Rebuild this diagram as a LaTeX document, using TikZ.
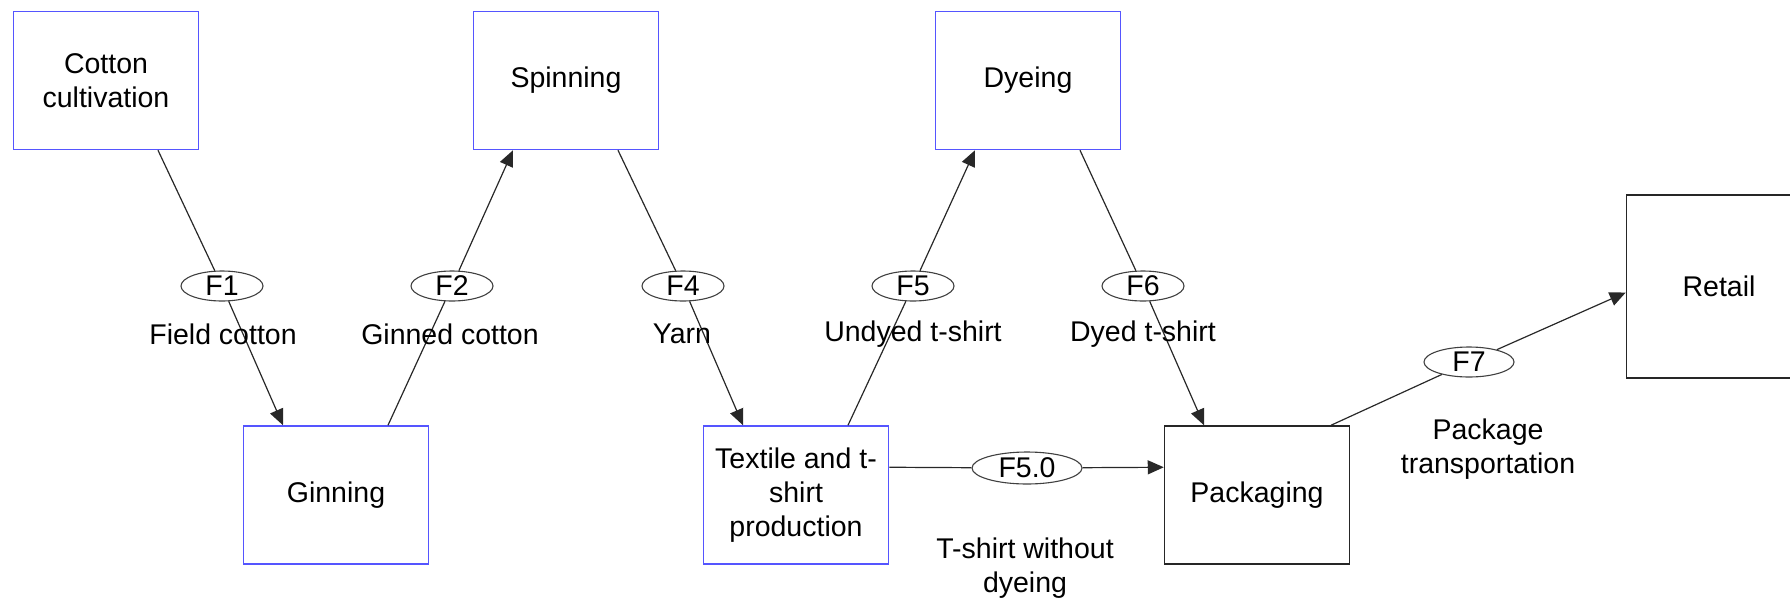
\documentclass[tikz,border=0pt]{standalone}
\usepackage{fontspec}
\setmainfont{Liberation Sans}
\usetikzlibrary{shapes.geometric,arrows.meta,calc}
\definecolor{boxblue}{RGB}{85,85,255}
\definecolor{linegray}{RGB}{40,40,40}
\tikzset{
  procbox/.style={draw=boxblue,line width=1.5pt,minimum width=185pt,minimum height=138pt,inner sep=0pt,align=center,fill=white},
  blackbox/.style={procbox,draw=black!85},
  flowell/.style={ellipse,draw=black!75,line width=1.1pt,minimum width=82pt,minimum height=30pt,inner sep=0pt,fill=white},
  conn/.style={draw=linegray,line width=1.2pt},
  arr/.style={conn,-{Triangle[length=16pt,width=14pt]}},
  lbl/.style={align=center,inner sep=0pt}
}
\begin{document}
\begin{tikzpicture}[x=1pt,y=-1pt,font=\fontsize{28.5}{34}\selectfont]
\useasboundingbox (0,0) rectangle (1790,600);
\clip (0,0) rectangle (1790,600);
% boxes
\node[procbox] (cotton) at (106,80.5) {Cotton\\cultivation};
\node[procbox] (spinning) at (566,80.5) {Spinning};
\node[procbox] (dyeing) at (1028,80.5) {Dyeing};
\node[procbox] (ginning) at (336,495) {Ginning};
\node[procbox] (textile) at (796,495) {Textile and t-\\shirt\\production};
\node[blackbox] (packaging) at (1257,495) {Packaging};
\node[blackbox,minimum height=183pt] (retail) at (1719,286.5) {Retail};
% attachment points
\coordinate (c1) at ($(cotton.south)+(52,0)$);
\coordinate (g1) at ($(ginning.north)+(-53,0)$);
\coordinate (g2) at ($(ginning.north)+(52,0)$);
\coordinate (s1) at ($(spinning.south)+(-53,0)$);
\coordinate (s2) at ($(spinning.south)+(52,0)$);
\coordinate (t1) at ($(textile.north)+(-53,0)$);
\coordinate (t2) at ($(textile.north)+(52,0)$);
\coordinate (d1) at ($(dyeing.south)+(-53,0)$);
\coordinate (d2) at ($(dyeing.south)+(52,0)$);
\coordinate (p1) at ($(packaging.north)+(-53,0)$);
\coordinate (p2) at ($(packaging.north)+(74,0)$);
\coordinate (t3) at ($(textile.north east)+(0,42)$);
\coordinate (p3) at ($(packaging.north west)+(0,42)$);
\coordinate (r1) at ($(retail.west)+(0,6)$);
% ellipses
\node[flowell] (F1) at (222,286) {F1};
\node[flowell] (F2) at (452,286) {F2};
\node[flowell] (F4) at (683,286) {F4};
\node[flowell] (F5) at (913,286) {F5};
\node[flowell] (F6) at (1143,286) {F6};
\node[flowell,minimum width=110pt,minimum height=32pt] (F50) at (1027,468) {F5.0};
\node[flowell,minimum width=90pt] (F7) at (1469,362) {F7};
% connectors
\draw[conn] (c1) -- (F1);
\draw[arr] (F1) -- (g1);
\draw[conn] (g2) -- (F2);
\draw[arr] (F2) -- (s1);
\draw[conn] (s2) -- (F4);
\draw[arr] (F4) -- (t1);
\draw[conn] (t2) -- (F5);
\draw[arr] (F5) -- (d1);
\draw[conn] (d2) -- (F6);
\draw[arr] (F6) -- (p1);
\draw[conn] (t3) -- (F50);
\draw[arr] (F50) -- (p3);
\draw[conn] (p2) -- (F7);
\draw[arr] (F7) -- (r1);
% labels
\node[lbl] (L1) at (223,334) {Field cotton};
\node[lbl] (L2) at (450,334) {Ginned cotton};
\node[lbl] (L4) at (682,334) {Yarn};
\node[lbl] (L5) at (913,334) {Undyed t-shirt};
\node[lbl] (L6) at (1143,334) {Dyed t-shirt};
\node[lbl] (L50) at (1025,568) {T-shirt without\\dyeing};
\node[lbl] (L7) at (1488,449) {Package\\transportation};
\end{tikzpicture}
\end{document}
